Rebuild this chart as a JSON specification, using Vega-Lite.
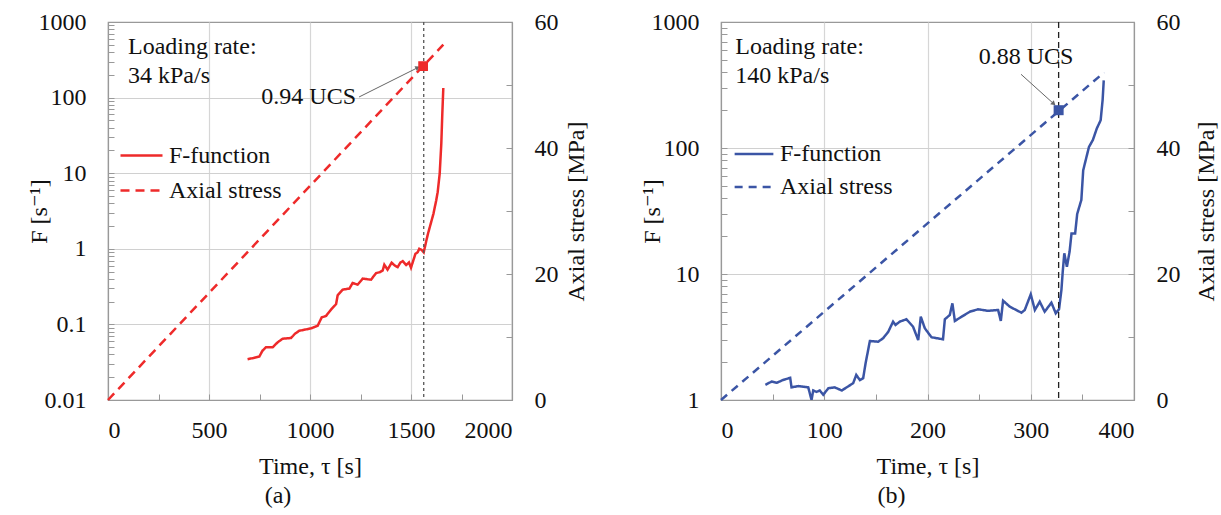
{
  "$schema": "https://vega.github.io/schema/vega-lite/v6.json",
  "padding": {"left": 26, "top": 9, "right": 0, "bottom": 5},
  "background": "white",
  "config": {
    "font": "Liberation Serif, Times New Roman, Times, DejaVu Serif, serif",
    "view": {"stroke": "#999999", "strokeWidth": 1.2},
    "axis": {"labelFont": "Liberation Serif, Times New Roman, Times, DejaVu Serif, serif", "titleFont": "Liberation Serif, Times New Roman, Times, DejaVu Serif, serif", "labelFontSize": 24, "titleFontSize": 24, "titleFontWeight": "normal", "labelColor": "#111", "titleColor": "#111", "domainColor": "#999999", "domainWidth": 1.2, "tickColor": "#999999", "tickSize": -6, "labelPadding": 14, "gridWidth": 1.2},
    "axisX": {"labelPadding": 24},
    "axisY": {"labelPadding": 28},
    "legend": {"labelFont": "Liberation Serif, Times New Roman, Times, DejaVu Serif, serif", "labelFontSize": 24, "labelColor": "#111"},
    "title": {"font": "Liberation Serif, Times New Roman, Times, DejaVu Serif, serif", "fontSize": 24, "fontWeight": "normal", "color": "#111"},
    "text": {"font": "Liberation Serif, Times New Roman, Times, DejaVu Serif, serif"}
  },
  "datasets": {
    "fa": [
      {"t": 691, "F": 0.0346, "series": "F-function"}, {"t": 720, "F": 0.036, "series": "F-function"}, {"t": 749, "F": 0.0375, "series": "F-function"}, {"t": 765, "F": 0.045, "series": "F-function"}, {"t": 782, "F": 0.0498, "series": "F-function"}, {"t": 815, "F": 0.0498, "series": "F-function"}, {"t": 840, "F": 0.058, "series": "F-function"}, {"t": 865, "F": 0.0647, "series": "F-function"}, {"t": 906, "F": 0.066, "series": "F-function"}, {"t": 925, "F": 0.075, "series": "F-function"}, {"t": 947, "F": 0.0824, "series": "F-function"}, {"t": 1005, "F": 0.0886, "series": "F-function"}, {"t": 1038, "F": 0.096, "series": "F-function"}, {"t": 1058, "F": 0.124, "series": "F-function"}, {"t": 1079, "F": 0.129, "series": "F-function"}, {"t": 1104, "F": 0.157, "series": "F-function"}, {"t": 1129, "F": 0.185, "series": "F-function"}, {"t": 1137, "F": 0.243, "series": "F-function"}, {"t": 1162, "F": 0.288, "series": "F-function"}, {"t": 1195, "F": 0.298, "series": "F-function"}, {"t": 1211, "F": 0.353, "series": "F-function"}, {"t": 1236, "F": 0.336, "series": "F-function"}, {"t": 1261, "F": 0.403, "series": "F-function"}, {"t": 1302, "F": 0.39, "series": "F-function"}, {"t": 1327, "F": 0.477, "series": "F-function"}, {"t": 1345, "F": 0.49, "series": "F-function"}, {"t": 1360, "F": 0.518, "series": "F-function"}, {"t": 1368, "F": 0.616, "series": "F-function"}, {"t": 1384, "F": 0.53, "series": "F-function"}, {"t": 1404, "F": 0.654, "series": "F-function"}, {"t": 1420, "F": 0.6, "series": "F-function"}, {"t": 1434, "F": 0.573, "series": "F-function"}, {"t": 1448, "F": 0.66, "series": "F-function"}, {"t": 1459, "F": 0.687, "series": "F-function"}, {"t": 1476, "F": 0.61, "series": "F-function"}, {"t": 1490, "F": 0.66, "series": "F-function"}, {"t": 1500, "F": 0.562, "series": "F-function"}, {"t": 1522, "F": 0.86, "series": "F-function"}, {"t": 1533, "F": 0.9, "series": "F-function"}, {"t": 1541, "F": 1.0, "series": "F-function"}, {"t": 1554, "F": 0.96, "series": "F-function"}, {"t": 1563, "F": 0.9, "series": "F-function"}, {"t": 1575, "F": 1.25, "series": "F-function"}, {"t": 1584, "F": 1.58, "series": "F-function"}, {"t": 1602, "F": 2.37, "series": "F-function"}, {"t": 1611, "F": 2.9, "series": "F-function"}, {"t": 1625, "F": 4.4, "series": "F-function"}, {"t": 1632, "F": 5.6, "series": "F-function"}, {"t": 1642, "F": 9.8, "series": "F-function"}, {"t": 1650, "F": 24.5, "series": "F-function"}, {"t": 1655, "F": 61, "series": "F-function"}, {"t": 1660, "F": 134, "series": "F-function"}
    ],
    "sa": [{"t": 0, "s": 0, "series": "Axial stress"}, {"t": 1660, "s": 56.4, "series": "Axial stress"}],
    "ua": [{"t": 1560, "s": 53}],
    "va": [{"t": 1563}],
    "aa": [{"t": 1243, "s": 48.1, "t2": 1530, "s2": 52.7}],
    "ca": [{"t": 1228, "s": 48.1, "text": "0.94 UCS"}],
    "na": [{"t": 99, "s": 56, "text": "Loading rate:\n34 kPa/s"}],
    "fb": [
      {"t": 43, "F": 1.32, "series": "F-function"}, {"t": 49, "F": 1.4, "series": "F-function"}, {"t": 54, "F": 1.37, "series": "F-function"}, {"t": 60, "F": 1.44, "series": "F-function"}, {"t": 67, "F": 1.5, "series": "F-function"}, {"t": 68.3, "F": 1.26, "series": "F-function"}, {"t": 75, "F": 1.29, "series": "F-function"}, {"t": 84.5, "F": 1.26, "series": "F-function"}, {"t": 87.7, "F": 1.0, "series": "F-function"}, {"t": 89.3, "F": 1.19, "series": "F-function"}, {"t": 92.5, "F": 1.16, "series": "F-function"}, {"t": 95.7, "F": 1.19, "series": "F-function"}, {"t": 99, "F": 1.1, "series": "F-function"}, {"t": 104, "F": 1.24, "series": "F-function"}, {"t": 110, "F": 1.26, "series": "F-function"}, {"t": 117, "F": 1.19, "series": "F-function"}, {"t": 123, "F": 1.28, "series": "F-function"}, {"t": 128, "F": 1.36, "series": "F-function"}, {"t": 131, "F": 1.58, "series": "F-function"}, {"t": 134.5, "F": 1.44, "series": "F-function"}, {"t": 137.7, "F": 1.49, "series": "F-function"}, {"t": 140, "F": 1.95, "series": "F-function"}, {"t": 142.5, "F": 2.49, "series": "F-function"}, {"t": 144.2, "F": 2.94, "series": "F-function"}, {"t": 152.2, "F": 2.9, "series": "F-function"}, {"t": 157, "F": 3.09, "series": "F-function"}, {"t": 162, "F": 3.48, "series": "F-function"}, {"t": 166.7, "F": 4.19, "series": "F-function"}, {"t": 169, "F": 3.94, "series": "F-function"}, {"t": 173.2, "F": 4.19, "series": "F-function"}, {"t": 179.6, "F": 4.37, "series": "F-function"}, {"t": 186, "F": 3.82, "series": "F-function"}, {"t": 191, "F": 2.99, "series": "F-function"}, {"t": 193.5, "F": 4.58, "series": "F-function"}, {"t": 197.4, "F": 3.71, "series": "F-function"}, {"t": 203.8, "F": 3.15, "series": "F-function"}, {"t": 215, "F": 3.03, "series": "F-function"}, {"t": 216.8, "F": 4.37, "series": "F-function"}, {"t": 221.6, "F": 4.73, "series": "F-function"}, {"t": 224.1, "F": 5.85, "series": "F-function"}, {"t": 226.5, "F": 4.24, "series": "F-function"}, {"t": 233, "F": 4.58, "series": "F-function"}, {"t": 241, "F": 5.02, "series": "F-function"}, {"t": 249, "F": 5.25, "series": "F-function"}, {"t": 258.7, "F": 5.1, "series": "F-function"}, {"t": 268.4, "F": 5.18, "series": "F-function"}, {"t": 271, "F": 4.24, "series": "F-function"}, {"t": 273.2, "F": 6.14, "series": "F-function"}, {"t": 279.7, "F": 5.5, "series": "F-function"}, {"t": 291, "F": 4.93, "series": "F-function"}, {"t": 294.2, "F": 5.18, "series": "F-function"}, {"t": 300, "F": 6.9, "series": "F-function"}, {"t": 304, "F": 5.18, "series": "F-function"}, {"t": 308.7, "F": 6.03, "series": "F-function"}, {"t": 313.5, "F": 5.02, "series": "F-function"}, {"t": 320, "F": 5.92, "series": "F-function"}, {"t": 324.2, "F": 4.88, "series": "F-function"}, {"t": 327.4, "F": 5.25, "series": "F-function"}, {"t": 329.7, "F": 7.46, "series": "F-function"}, {"t": 331, "F": 10.5, "series": "F-function"}, {"t": 332.5, "F": 14.6, "series": "F-function"}, {"t": 335, "F": 11.4, "series": "F-function"}, {"t": 337.6, "F": 15, "series": "F-function"}, {"t": 339.5, "F": 21, "series": "F-function"}, {"t": 343, "F": 21, "series": "F-function"}, {"t": 345, "F": 30, "series": "F-function"}, {"t": 349, "F": 38.7, "series": "F-function"}, {"t": 350.8, "F": 66.5, "series": "F-function"}, {"t": 354, "F": 85, "series": "F-function"}, {"t": 356.4, "F": 102, "series": "F-function"}, {"t": 360.2, "F": 116, "series": "F-function"}, {"t": 364, "F": 143, "series": "F-function"}, {"t": 367.7, "F": 166, "series": "F-function"}, {"t": 369.6, "F": 240, "series": "F-function"}, {"t": 370.7, "F": 344, "series": "F-function"}
    ],
    "sb": [{"t": 0, "s": 0, "series": "Axial stress"}, {"t": 371, "s": 52, "series": "Axial stress"}],
    "ub": [{"t": 327, "s": 46}],
    "vb": [{"t": 327}],
    "ab": [{"t": 290.6, "s": 51.7, "t2": 321.7, "s2": 47.1}],
    "cb": [{"t": 295.5, "s": 54.4, "text": "0.88 UCS"}],
    "nb": [{"t": 13.8, "s": 56, "text": "Loading rate:\n140 kPa/s"}]
  },
  "hconcat": [
    {
      "width": 404, "height": 378,
      "title": {"text": "(a)", "orient": "bottom", "anchor": "middle", "dx": -32, "offset": 6},
      "layer": [
        {
          "data": {"name": "fa"},
          "mark": {"type": "line", "strokeWidth": 2.5, "clip": true},
          "encoding": {
            "x": {"field": "t", "type": "quantitative", "scale": {"domain": [0, 2000], "nice": false},
              "axis": {"title": "Time, τ [s]", "values": [0, 250, 500, 750, 1000, 1250, 1500, 1750, 2000],
                "labelExpr": "datum.value % 500 == 0 ? format(datum.value, 'd') : ''",
                "gridColor": {"condition": {"test": "datum.value % 500 == 0 && datum.value > 0 && datum.value < 2000", "value": "#d6d6d6"}, "value": "transparent"}, "titlePadding": 12}},
            "y": {"field": "F", "type": "quantitative", "scale": {"type": "log", "domain": [0.01, 1000], "nice": false},
              "axis": {"title": "F [s⁻¹]", "values": [0.01, 0.02, 0.03, 0.04, 0.05, 0.06, 0.07, 0.08, 0.09, 0.1, 0.2, 0.3, 0.4, 0.5, 0.6, 0.7, 0.8, 0.9, 1, 2, 3, 4, 5, 6, 7, 8, 9, 10, 20, 30, 40, 50, 60, 70, 80, 90, 100, 200, 300, 400, 500, 600, 700, 800, 900, 1000],
                "labelExpr": "indexof([0.01, 0.1, 1, 10, 100, 1000], datum.value) >= 0 ? format(datum.value, '~g') : ''",
                "gridColor": {"condition": {"test": "indexof([0.1, 1, 10, 100], datum.value) >= 0", "value": "#d0d0d0"}, "value": "transparent"}, "titlePadding": -13}},
            "color": {"field": "series", "type": "nominal", "scale": {"domain": ["F-function", "Axial stress"], "range": ["#ee2a2a", "#ee2a2a"]},
              "legend": {"orient": "none", "legendX": 11, "legendY": 111, "title": null, "symbolType": "stroke", "symbolSize": 1764, "symbolStrokeWidth": 2.5, "rowPadding": 0, "labelOffset": 5}},
            "strokeDash": {"field": "series", "type": "nominal", "scale": {"domain": ["F-function", "Axial stress"], "range": [[1, 0], [9, 6]]}, "legend": {"orient": "none", "legendX": 11, "legendY": 111, "title": null, "symbolType": "stroke", "symbolSize": 1764, "symbolStrokeWidth": 2.5, "rowPadding": 0, "labelOffset": 5}}
          }
        },
        {
          "data": {"name": "va"},
          "mark": {"type": "rule", "color": "#555555", "strokeWidth": 1.3, "strokeDash": [3, 3]},
          "encoding": {"x": {"field": "t", "type": "quantitative"}}
        },
        {
          "layer": [
            {
              "data": {"name": "sa"},
              "mark": {"type": "line", "strokeWidth": 2.5},
              "encoding": {
                "x": {"field": "t", "type": "quantitative"},
                "y": {"field": "s", "type": "quantitative", "scale": {"domain": [0, 60], "nice": false},
                  "axis": {"orient": "right", "title": "Axial stress [MPa]", "titleAngle": 270, "titleBaseline": "top", "values": [0, 10, 20, 30, 40, 50, 60], "labelExpr": "datum.value % 20 == 0 ? datum.label : ''", "grid": false, "titlePadding": 6}},
                "color": {"field": "series", "type": "nominal"},
                "strokeDash": {"field": "series", "type": "nominal"}
              }
            },
            {
              "data": {"name": "aa"},
              "mark": {"type": "rule", "color": "#666666", "strokeWidth": 1},
              "encoding": {
                "x": {"field": "t", "type": "quantitative"},
                "y": {"field": "s", "type": "quantitative", "scale": {"domain": [0, 60], "nice": false}},
                "x2": {"field": "t2"}, "y2": {"field": "s2"}
              }
            },
            {
              "data": {"name": "aa"},
              "mark": {"type": "point", "shape": "triangle", "angle": 63, "size": 28, "filled": true, "color": "#666666", "opacity": 1},
              "encoding": {
                "x": {"field": "t2", "type": "quantitative"},
                "y": {"field": "s2", "type": "quantitative", "scale": {"domain": [0, 60], "nice": false}}
              }
            },
            {
              "data": {"name": "ua"},
              "mark": {"type": "square", "size": 95, "filled": true, "color": "#ee2a2a", "opacity": 1},
              "encoding": {
                "x": {"field": "t", "type": "quantitative"},
                "y": {"field": "s", "type": "quantitative", "scale": {"domain": [0, 60], "nice": false}}
              }
            },
            {
              "data": {"name": "ca"},
              "mark": {"type": "text", "align": "right", "baseline": "middle", "fontSize": 24, "color": "#111"},
              "encoding": {
                "x": {"field": "t", "type": "quantitative"},
                "y": {"field": "s", "type": "quantitative", "scale": {"domain": [0, 60], "nice": false}},
                "text": {"field": "text"}
              }
            },
            {
              "data": {"name": "na"},
              "mark": {"type": "text", "align": "left", "baseline": "middle", "fontSize": 24, "color": "#111", "lineBreak": "\n", "lineHeight": 29},
              "encoding": {
                "x": {"field": "t", "type": "quantitative"},
                "y": {"field": "s", "type": "quantitative", "scale": {"domain": [0, 60], "nice": false}},
                "text": {"field": "text"}
              }
            }
          ]
        }
      ],
      "resolve": {"scale": {"y": "independent"}}
    },
    {
      "width": 413, "height": 378,
      "title": {"text": "(b)", "orient": "bottom", "anchor": "middle", "dx": -36, "offset": 6},
      "layer": [
        {
          "data": {"name": "fb"},
          "mark": {"type": "line", "strokeWidth": 2.5, "clip": true},
          "encoding": {
            "x": {"field": "t", "type": "quantitative", "scale": {"domain": [0, 400], "nice": false},
              "axis": {"title": "Time, τ [s]", "values": [0, 50, 100, 150, 200, 250, 300, 350, 400],
                "labelExpr": "datum.value % 100 == 0 ? format(datum.value, 'd') : ''",
                "gridColor": {"condition": {"test": "datum.value % 100 == 0 && datum.value > 0 && datum.value < 400", "value": "#d6d6d6"}, "value": "transparent"}, "titlePadding": 12}},
            "y": {"field": "F", "type": "quantitative", "scale": {"type": "log", "domain": [1, 1000], "nice": false},
              "axis": {"title": "F [s⁻¹]", "values": [1, 2, 3, 4, 5, 6, 7, 8, 9, 10, 20, 30, 40, 50, 60, 70, 80, 90, 100, 200, 300, 400, 500, 600, 700, 800, 900, 1000],
                "labelExpr": "indexof([1, 10, 100, 1000], datum.value) >= 0 ? format(datum.value, '~g') : ''",
                "gridColor": {"condition": {"test": "indexof([10, 100], datum.value) >= 0", "value": "#d0d0d0"}, "value": "transparent"}, "titlePadding": -13}},
            "color": {"field": "series", "type": "nominal", "scale": {"domain": ["F-function", "Axial stress"], "range": ["#3b55a5", "#3b55a5"]},
              "legend": {"orient": "none", "legendX": 12, "legendY": 111, "title": null, "symbolType": "stroke", "symbolSize": 1500, "symbolStrokeWidth": 2.5, "rowPadding": 0, "labelOffset": 5}},
            "strokeDash": {"field": "series", "type": "nominal", "scale": {"domain": ["F-function", "Axial stress"], "range": [[1, 0], [8, 6]]}, "legend": {"orient": "none", "legendX": 12, "legendY": 111, "title": null, "symbolType": "stroke", "symbolSize": 1500, "symbolStrokeWidth": 2.5, "rowPadding": 0, "labelOffset": 5}}
          }
        },
        {
          "data": {"name": "vb"},
          "mark": {"type": "rule", "color": "#222222", "strokeWidth": 1.3, "strokeDash": [6, 4]},
          "encoding": {"x": {"field": "t", "type": "quantitative"}}
        },
        {
          "layer": [
            {
              "data": {"name": "sb"},
              "mark": {"type": "line", "strokeWidth": 2.5},
              "encoding": {
                "x": {"field": "t", "type": "quantitative"},
                "y": {"field": "s", "type": "quantitative", "scale": {"domain": [0, 60], "nice": false},
                  "axis": {"orient": "right", "title": "Axial stress [MPa]", "titleAngle": 270, "titleBaseline": "top", "values": [0, 10, 20, 30, 40, 50, 60], "labelExpr": "datum.value % 20 == 0 ? datum.label : ''", "grid": false, "titlePadding": 14}},
                "color": {"field": "series", "type": "nominal"},
                "strokeDash": {"field": "series", "type": "nominal"}
              }
            },
            {
              "data": {"name": "ab"},
              "mark": {"type": "rule", "color": "#666666", "strokeWidth": 1},
              "encoding": {
                "x": {"field": "t", "type": "quantitative"},
                "y": {"field": "s", "type": "quantitative", "scale": {"domain": [0, 60], "nice": false}},
                "x2": {"field": "t2"}, "y2": {"field": "s2"}
              }
            },
            {
              "data": {"name": "ab"},
              "mark": {"type": "point", "shape": "triangle", "angle": 132, "size": 28, "filled": true, "color": "#666666", "opacity": 1},
              "encoding": {
                "x": {"field": "t2", "type": "quantitative"},
                "y": {"field": "s2", "type": "quantitative", "scale": {"domain": [0, 60], "nice": false}}
              }
            },
            {
              "data": {"name": "ub"},
              "mark": {"type": "square", "size": 100, "filled": true, "color": "#3b55a5", "opacity": 1},
              "encoding": {
                "x": {"field": "t", "type": "quantitative"},
                "y": {"field": "s", "type": "quantitative", "scale": {"domain": [0, 60], "nice": false}}
              }
            },
            {
              "data": {"name": "cb"},
              "mark": {"type": "text", "align": "center", "baseline": "middle", "fontSize": 24, "color": "#111"},
              "encoding": {
                "x": {"field": "t", "type": "quantitative"},
                "y": {"field": "s", "type": "quantitative", "scale": {"domain": [0, 60], "nice": false}},
                "text": {"field": "text"}
              }
            },
            {
              "data": {"name": "nb"},
              "mark": {"type": "text", "align": "left", "baseline": "middle", "fontSize": 24, "color": "#111", "lineBreak": "\n", "lineHeight": 29},
              "encoding": {
                "x": {"field": "t", "type": "quantitative"},
                "y": {"field": "s", "type": "quantitative", "scale": {"domain": [0, 60], "nice": false}},
                "text": {"field": "text"}
              }
            }
          ]
        }
      ],
      "resolve": {"scale": {"y": "independent"}}
    }
  ],
  "spacing": 50,
  "resolve": {"scale": {"x": "independent", "y": "independent", "color": "independent", "strokeDash": "independent"}, "legend": {"color": "independent", "strokeDash": "independent"}}
}
